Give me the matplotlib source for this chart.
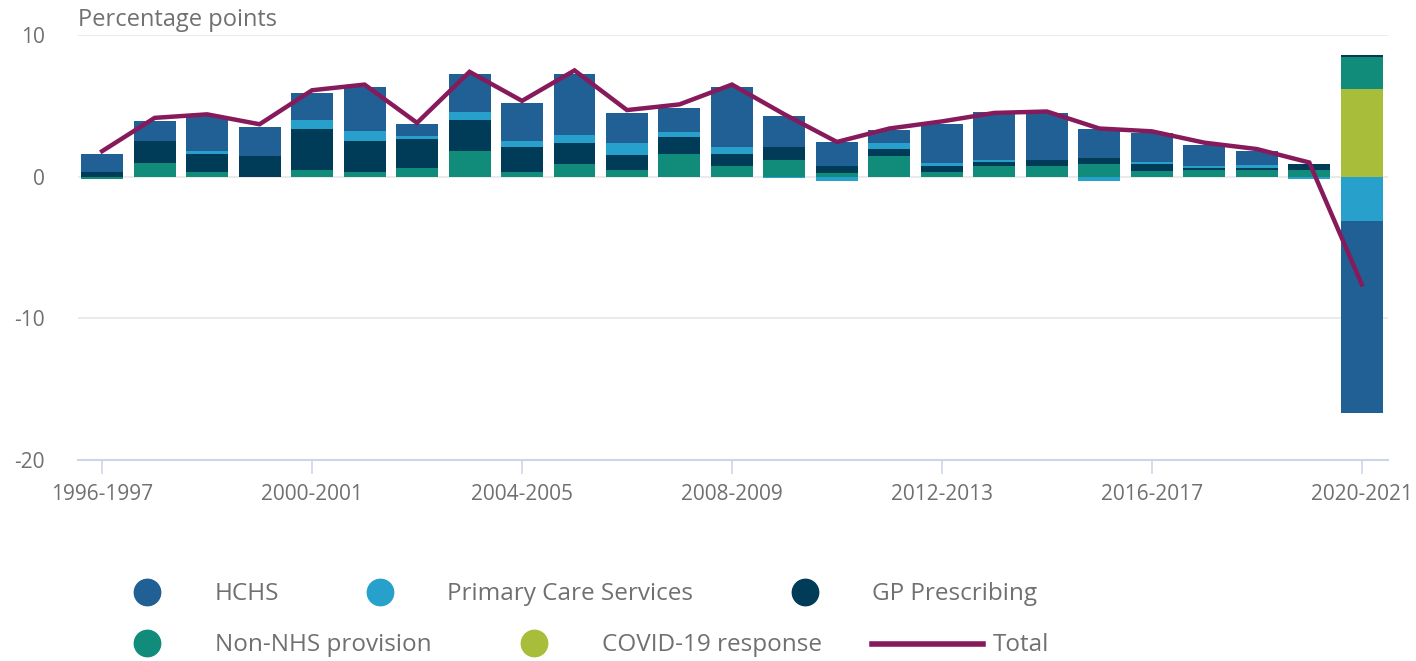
import matplotlib.pyplot as plt
from matplotlib.lines import Line2D
import numpy as np

plt.rcParams['font.family'] = ['Open Sans', 'DejaVu Sans']
plt.rcParams['axes.unicode_minus'] = False

# categories
jahre = [f"{y}-{y + 1}" for y in range(1996, 2021)]

# contributions in percentage points
hchs = [1.3, 1.45, 2.45, 2.06, 1.92, 3.1, 0.85, 2.65, 2.68, 4.3, 2.09, 1.76, 4.3,
        2.2, 1.72, 0.94, 2.73, 3.4, 3.28, 2.06, 2.05, 1.5, 0.93, 0.0, -13.55]
primary = [0, 0, 0.2, 0, 0.59, 0.75, 0.2, 0.63, 0.45, 0.6, 0.87, 0.32, 0.44,
           -0.1, -0.3, 0.42, 0.23, 0.17, 0, -0.3, 0.14, 0.15, 0.25, -0.15, -3.1]
gp = [0.3, 1.5, 1.3, 1.48, 2.88, 2.2, 2.05, 2.19, 1.76, 1.45, 1.0, 1.18, 0.85,
      0.9, 0.5, 0.47, 0.47, 0.26, 0.47, 0.43, 0.52, 0.15, 0.15, 0.4, 0.12]
non_nhs = [-0.15, 1.0, 0.3, 0, 0.5, 0.3, 0.6, 1.78, 0.3, 0.9, 0.5, 1.62, 0.77,
           1.2, 0.25, 1.48, 0.3, 0.77, 0.73, 0.9, 0.37, 0.45, 0.45, 0.5, 2.3]
covid = [0] * 24 + [6.17]
total = [1.8, 4.15, 4.4, 3.7, 6.1, 6.5, 3.8, 7.4, 5.35, 7.5, 4.7, 5.1, 6.5,
         4.4, 2.45, 3.4, 3.9, 4.5, 4.6, 3.4, 3.2, 2.4, 1.95, 1.0, -7.6]

grau = '#707070'
# stacking order from zero outwards
serien = [
    ('COVID-19 response', covid, '#a8bd3a'),
    ('Non-NHS provision', non_nhs, '#118c7b'),
    ('GP Prescribing', gp, '#003c57'),
    ('Primary Care Services', primary, '#27a0cc'),
    ('HCHS', hchs, '#206095'),
]

fig = plt.figure(figsize=(14.16, 6.61), dpi=100)
ax = fig.add_axes([78 / 1416, 1 - 460 / 661, (1388 - 78) / 1416, (460 - 35) / 661])

x = np.arange(len(jahre))
pos = np.zeros(len(x))
neg = np.zeros(len(x))
for name, werte, farbe in serien:
    w = np.array(werte, dtype=float)
    p = np.where(w > 0, w, 0)
    n = np.where(w < 0, w, 0)
    ax.bar(x, p, 0.8, bottom=pos, color=farbe, zorder=2)
    ax.bar(x, n, 0.8, bottom=neg, color=farbe, zorder=2)
    pos += p
    neg += n

ax.plot(x, total, color='#871a5b', lw=3.2, zorder=3, solid_joinstyle='miter')

ax.set_xlim(-0.46, 24.5)
ax.set_ylim(-20, 10)
ax.set_yticks([-20, -10, 0, 10])
ax.set_xticks(x[::4])
ax.set_xticklabels([jahre[i] for i in x[::4]])
ax.grid(axis='y', color='#e6e6e6', lw=1.2, zorder=0)
for s in ['top', 'right', 'left']:
    ax.spines[s].set_visible(False)
ax.spines['bottom'].set_color('#ccd6eb')
ax.spines['bottom'].set_linewidth(1.5)
ax.tick_params(axis='x', colors='#ccd6eb', length=10, width=1.2, pad=7,
               labelcolor=grau, labelsize=15)
ax.tick_params(axis='y', length=0, pad=24, labelcolor=grau, labelsize=15)

fig.text(78 / 1416, 1 - 20 / 661, 'Percentage points', color=grau, fontsize=17,
         va='center', ha='left')

# legend drawn by hand
legende = [
    (147, 592, 215, 'HCHS', '#206095'),
    (380, 592, 447, 'Primary Care Services', '#27a0cc'),
    (805, 592, 872, 'GP Prescribing', '#003c57'),
    (147, 643, 215, 'Non-NHS provision', '#118c7b'),
    (534, 643, 602, 'COVID-19 response', '#a8bd3a'),
]
for mx, my, tx, txt, farbe in legende:
    fig.add_artist(Line2D([mx / 1416], [1 - my / 661], marker='o', ms=19,
                          color=farbe, ls='none'))
    fig.text(tx / 1416, 1 - (my + 2) / 661, txt, color=grau, fontsize=17.5,
             va='center', ha='left')
fig.add_artist(Line2D([872 / 1416, 983 / 1416], [1 - 644 / 661, 1 - 644 / 661],
                      color='#871a5b', lw=4))
fig.text(993 / 1416, 1 - 645 / 661, 'Total', color=grau, fontsize=17.5,
         va='center', ha='left')

fig.savefig('out.png', dpi=100)
